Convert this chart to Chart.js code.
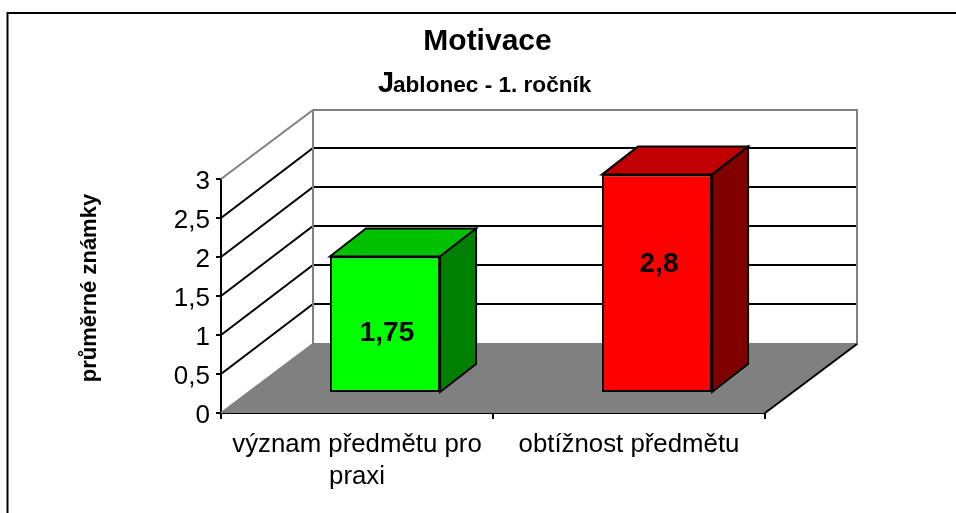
<!DOCTYPE html>
<html>
<head>
<meta charset="utf-8">
<style>
  html, body { margin: 0; padding: 0; background: #fff; }
  #wrap { width: 956px; height: 513px; }
</style>
<script src="https://cdn.jsdelivr.net/npm/chart.js@4"></script>
</head>
<body>
<div id="wrap"><canvas id="chart" width="956" height="513"></canvas></div>
<script>
const categories = [['význam předmětu pro', 'praxi'], 'obtížnost předmětu'];
const values = [1.75, 2.8];
const valueLabels = ['1,75', '2,8'];
const frontColors = ['#00ff00', '#ff0000'];
const topColors = ['#00c000', '#c00000'];
const sideColors = ['#008000', '#800000'];
const titleText = 'Motivace';
const subtitleInitial = 'J';
const subtitleRest = 'ablonec - 1. ročník';
const axisTitle = 'průměrné známky';

// fake 3d: how far the back wall sits from the front plane
const WALL_DX = 92, WALL_DY = -69, GRID_DY = -70;
// bars stand inside the floor, and have their own depth
const BAR_DX = 28, BAR_DY = -20, DEPTH_DX = 36, DEPTH_DY = -28;
const FONT = '"Liberation Sans", Arial, sans-serif';

function poly(ctx, pts, fill) {
  ctx.beginPath();
  pts.forEach((p, i) => i ? ctx.lineTo(p[0], p[1]) : ctx.moveTo(p[0], p[1]));
  ctx.closePath();
  if (fill) { ctx.fillStyle = fill; ctx.fill(); }
}

const box3d = {
  id: 'box3d',
  afterLayout(chart) {
    // title is centred over the whole picture, not over the plot
    chart.titleBlock.left += 105;
    chart.titleBlock.right += 105;
  },
  beforeDatasetsDraw(chart) {
    const { ctx, scales: { x, y } } = chart;
    const left = x.left, right = x.right, base = y.getPixelForValue(0);

    ctx.save();
    // floor
    poly(ctx, [[left, base], [left + WALL_DX, base + WALL_DY], [right + WALL_DX, base + WALL_DY], [right, base]], '#808080');

    // grid lines run over the side wall and across the back wall
    ctx.lineWidth = 2;
    y.ticks.forEach(t => {
      if (t.value === 0 || t.value === 3) return;
      const py = Math.round(y.getPixelForValue(t.value));
      ctx.strokeStyle = '#000';
      ctx.beginPath();
      ctx.moveTo(left, py);
      ctx.lineTo(left + WALL_DX, py + GRID_DY);
      ctx.lineTo(right + WALL_DX, py + GRID_DY);
      ctx.stroke();
    });

    // wall outline
    const top = y.getPixelForValue(3);
    ctx.strokeStyle = '#808080';
    ctx.beginPath();
    ctx.moveTo(left, top);
    ctx.lineTo(left + WALL_DX, top + WALL_DY);
    ctx.lineTo(right + WALL_DX, top + WALL_DY);
    ctx.lineTo(right + WALL_DX, base + WALL_DY);
    ctx.lineTo(left + WALL_DX, base + WALL_DY);
    ctx.lineTo(left, base);
    ctx.moveTo(left + WALL_DX, top + WALL_DY);
    ctx.lineTo(left + WALL_DX, base + WALL_DY);
    ctx.stroke();

    // floor right edge
    ctx.strokeStyle = '#000';
    ctx.beginPath();
    ctx.moveTo(right + WALL_DX, base + WALL_DY);
    ctx.lineTo(right, base);
    ctx.stroke();

    // bar top and side faces
    chart.getDatasetMeta(0).data.forEach((bar, i) => {
      const w = bar.width / 2;
      const l = bar.x - w + BAR_DX, r = bar.x + w + BAR_DX;
      const t = bar.y + BAR_DY, b = bar.base + BAR_DY;
      ctx.strokeStyle = '#000';
      poly(ctx, [[l, t], [l + DEPTH_DX, t + DEPTH_DY], [r + DEPTH_DX, t + DEPTH_DY], [r, t]], topColors[i]);
      ctx.stroke();
      poly(ctx, [[r, t], [r + DEPTH_DX, t + DEPTH_DY], [r + DEPTH_DX, b + DEPTH_DY], [r, b]], sideColors[i]);
      ctx.stroke();
    });
    ctx.restore();

    // the library's bars get pushed back onto the floor
    ctx.save();
    ctx.translate(BAR_DX, BAR_DY);
  },
  afterDatasetsDraw(chart) {
    const { ctx } = chart;
    ctx.restore();

    ctx.save();
    // value labels, hand placed like in the original
    const labelShift = [9, -19];
    ctx.fillStyle = '#000';
    ctx.font = 'bold 28px ' + FONT;
    ctx.textAlign = 'center';
    ctx.textBaseline = 'middle';
    chart.getDatasetMeta(0).data.forEach((bar, i) => {
      ctx.fillText(valueLabels[i], bar.x + BAR_DX + 2, (bar.y + bar.base) / 2 + BAR_DY + labelShift[i]);
    });

    // frame, only top and left are visible
    ctx.strokeStyle = '#000';
    ctx.lineWidth = 2;
    ctx.beginPath();
    ctx.moveTo(7.5, 513);
    ctx.lineTo(7.5, 13);
    ctx.lineTo(956, 13);
    ctx.stroke();

    // subtitle with the big J
    ctx.textAlign = 'left';
    ctx.textBaseline = 'alphabetic';
    ctx.font = 'bold 29px ' + FONT;
    ctx.fillText(subtitleInitial, 378, 92);
    ctx.font = 'bold 22.6px ' + FONT;
    ctx.fillText(subtitleRest, 393, 92);

    // y axis title
    ctx.translate(96, 288);
    ctx.rotate(-Math.PI / 2);
    ctx.textAlign = 'center';
    ctx.font = 'bold 22px ' + FONT;
    ctx.fillText(axisTitle, 0, 0);
    ctx.restore();
  }
};

new Chart(document.getElementById('chart'), {
  type: 'bar',
  data: {
    labels: categories,
    datasets: [{
      data: values,
      backgroundColor: frontColors,
      borderColor: '#000',
      borderWidth: 2,
      borderSkipped: false,
      barPercentage: 0.405,
      categoryPercentage: 1,
      clip: false
    }]
  },
  plugins: [box3d],
  options: {
    responsive: false,
    animation: false,
    devicePixelRatio: 1,
    layout: { padding: { left: 0, right: 191, top: 0, bottom: 0 } },
    plugins: {
      legend: { display: false },
      tooltip: { enabled: false },
      title: {
        display: true,
        text: titleText,
        color: '#000',
        font: { family: FONT, size: 30, weight: 'bold' },
        padding: { top: 24, bottom: 119 }
      }
    },
    scales: {
      x: {
        afterFit: s => { s.height = 100; },
        grid: { drawOnChartArea: false, color: '#000', lineWidth: 2, tickLength: 6, offset: true },
        border: { color: '#000', width: 2 },
        ticks: {
          color: '#000',
          maxRotation: 0,
          padding: 9,
          font: { family: FONT, size: 25.8, lineHeight: 1.27 }
        }
      },
      y: {
        min: 0,
        max: 3,
        afterFit: s => { s.width = 221; },
        grid: { drawOnChartArea: false, color: '#000', lineWidth: 2, tickLength: 5 },
        border: { color: '#000', width: 2 },
        ticks: {
          stepSize: 0.5,
          color: '#000',
          padding: 6,
          labelOffset: 3,
          font: { family: FONT, size: 26 },
          callback: v => String(v).replace('.', ',')
        }
      }
    }
  }
});
</script>
</body>
</html>
